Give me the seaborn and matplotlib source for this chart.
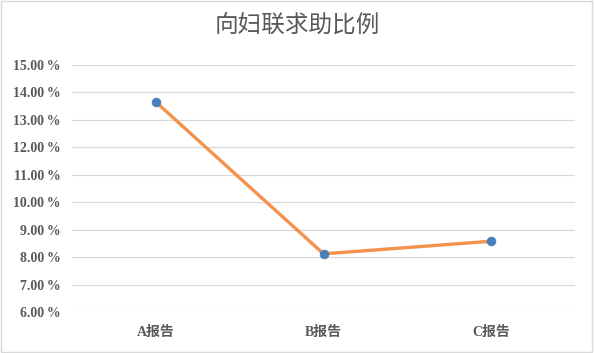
import matplotlib
matplotlib.use("Agg")
import matplotlib.pyplot as plt
import seaborn as sns
import pandas as pd
from matplotlib.ticker import FuncFormatter, MultipleLocator
from matplotlib.patches import Rectangle

categories = ["A报告", "B报告", "C报告"]
values = [13.65, 8.12, 8.58]
title = "向妇联求助比例"

sns.set_theme(style="white")
plt.rcParams['font.family'] = ['Liberation Serif', 'Noto Sans CJK SC']

df = pd.DataFrame({"cat": categories, "val": values})

fig = plt.figure(figsize=(5.94, 3.53), dpi=100)
ax = fig.add_axes([0.1212, 0.116, 0.847, 0.700])

sns.lineplot(data=df, x="cat", y="val", ax=ax, color="#F4914A", linewidth=2.4, sort=False, zorder=3)
sns.scatterplot(data=df, x="cat", y="val", ax=ax, color="#4A7EBB", s=40, edgecolor="#4A7EBB", zorder=4)

ax.set_xlim(-0.5, 2.5)
ax.set_ylim(6, 15)
ax.yaxis.set_major_locator(MultipleLocator(1))
ax.yaxis.set_major_formatter(FuncFormatter(lambda v, p: f"{v:.2f}\u2009%"))
ax.grid(axis="y", color="#D9D9D9", linewidth=0.9)
ax.grid(axis="x", visible=False)
for s in ax.spines.values():
    s.set_visible(False)
ax.set_xlabel("")
ax.set_ylabel("")
ax.tick_params(axis="both", length=0, labelsize=10, labelcolor="#595959", pad=8)
for lab in ax.get_yticklabels() + ax.get_xticklabels():
    lab.set_fontweight("bold")
ax.tick_params(axis="x", pad=10)

fig.text(0.5, 0.925, title, ha="center", va="center", fontsize=17, color="#595959",
         family=['Noto Sans CJK SC'])

fig.patches.append(Rectangle((0.002, 0.003), 0.995, 0.993, transform=fig.transFigure,
                             fill=False, edgecolor="#D9D9D9", linewidth=1))

fig.savefig("out.png", dpi=100)
